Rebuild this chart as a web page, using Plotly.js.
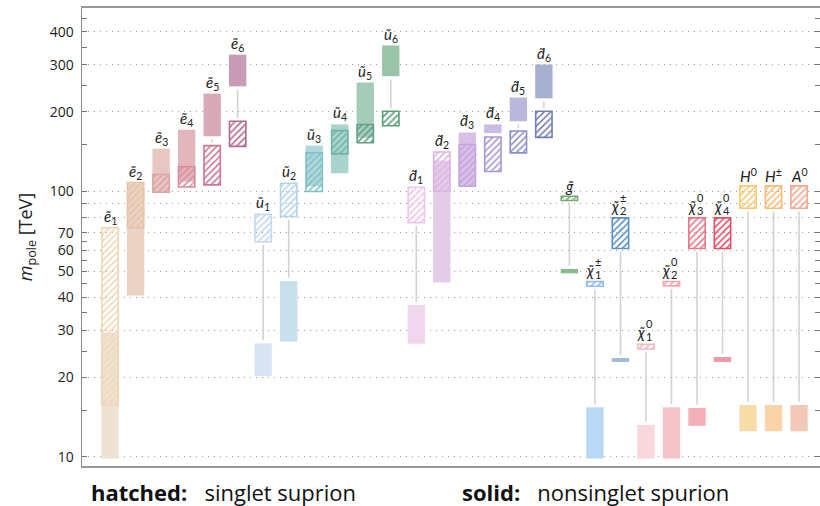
<!DOCTYPE html>
<html>
<head>
<meta charset="utf-8">
<script src="https://cdn.plot.ly/plotly-3.0.1.min.js"></script>
<style>
  html, body { margin: 0; padding: 0; background: #fff; }
  #chart { width: 820px; height: 506px; }
</style>
</head>
<body>
<div id="chart"></div>
<script>
// Particle labels: base symbol, subscript, superscript
const labelBase = ['ẽ','ẽ','ẽ','ẽ','ẽ','ẽ','ũ','ũ','ũ','ũ','ũ','ũ',
  'd̃','d̃','d̃','d̃','d̃','d̃','g̃','χ̃','χ̃','χ̃','χ̃','χ̃','χ̃','H','H','A'];
const labelSub = ['1','2','3','4','5','6','1','2','3','4','5','6',
  '1','2','3','4','5','6','','1','2','1','2','3','4','','',''];
const labelSup = ['','','','','','','','','','','','',
  '','','','','','','','±','±','0','0','0','0','0','±','0'];

// Nonsinglet spurion (solid) mass ranges in TeV
const solidLo = [9.87, 40.6, 100, 109, 161.5, 249, 20.2, 27.2, 104.7, 117.2, 159.4, 272,
  26.7, 45.4, 105, 166, 184, 224.5, 49.2, 9.87, 22.8, 9.87, 9.87, 13.1, 22.8, 12.5, 12.5, 12.5];
const solidHi = [29.3, 107, 145, 171, 234, 328, 26.8, 46, 149, 179, 257.5, 355,
  37.4, 131, 167, 179, 226, 301, 51.1, 15.4, 23.6, 13.2, 15.4, 15.3, 23.8, 15.7, 15.7, 15.7];

// Singlet spurion (hatched) mass ranges in TeV
const hatchLo = [15.7, 73, 99.5, 104, 106, 148, 64.7, 80.5, 100, 138.7, 152.6, 177,
  76.4, 100.3, 104.7, 119, 139.8, 160, 92.5, 44, 61, 25.5, 44.1, 61, 61, 86.5, 86.5, 86.5];
const hatchHi = [73, 108, 116, 124, 149, 184, 82, 107.5, 140, 169.6, 179, 200.6,
  103.8, 141, 150.4, 160.6, 169, 200.6, 96, 45.8, 79.6, 26.6, 45.8, 79.6, 79.6, 105, 105, 105];

const yTicks = [10, 20, 30, 40, 50, 60, 70, 80, 90, 100, 200, 300, 400];
const yTickText = ['10', '20', '30', '40', '50', '60', '70', '', '', '100', '200', '300', '400'];
const yMinorTicks = [15, 25, 35, 45, 55, 65, 150, 250, 350, 450];

// Colours per particle
const solidColors = ['#f0e2d2','#ead2c4','#e8c6c2','#e2b4bc','#d8aab8','#c89cb4',
  '#d8e4f4','#c8e0ec','#b0d8dc','#a8d4cc','#a4ccb8','#98c4a8',
  '#f2d6ee','#e4cce8','#d8c0e8','#c8bce4','#b8b8dc','#a8b0d0',
  '#88bc88','#b8d8f4','#a0bcd8','#f8d8dc','#f4c4c8','#f4b0b8','#f098a8',
  '#f8dca8','#f8d4a8','#f4c8b8'];
const hatchColors = ['#f0d6b6','#e8c2a4','#dca4a4','#d88c9c','#cc7890','#b86890',
  '#c4d8f0','#b4d4e8','#80c0c8','#70b4a8','#60a088','#58a078',
  '#f0c4e8','#dcb4e0','#c4a4dc','#a898d4','#8c90c8','#7080b4',
  '#70ac70','#90bcec','#5890c8','#f4b8c0','#f0a8b0','#e87888','#e05068',
  '#f8c870','#f8bc78','#f4a890'];

const n = labelBase.length;
const xs = labelBase.map((_, i) => i);
const FAMILY = '"Open Sans", "DejaVu Sans", sans-serif';
const LABEL_FAMILY = 'Lato, "DejaVu Sans", sans-serif';

// connector lines between the two ranges, with a small gap to each box
const gap = Math.pow(10, 3.2 / 265.4);
const cx = [], cy = [];
for (let i = 0; i < n; i++) {
  let a = null, b = null;
  if (hatchLo[i] > solidHi[i]) { a = solidHi[i] * gap; b = hatchLo[i] / gap; }
  else if (solidLo[i] > hatchHi[i]) { a = hatchHi[i] * gap; b = solidLo[i] / gap; }
  if (a !== null && b > a) { cx.push(i, i, null); cy.push(a, b, null); }
}

const connectors = {
  type: 'scatter', mode: 'lines', x: cx, y: cy,
  line: { color: '#d2d2d2', width: 1.6 }, hoverinfo: 'skip', showlegend: false
};

const solid = {
  type: 'bar', x: xs, base: solidLo,
  y: solidHi.map((h, i) => h - solidLo[i]),
  width: 0.68,
  marker: { color: solidColors, line: { width: 0 } },
  hoverinfo: 'skip', showlegend: false
};

const hatched = {
  type: 'bar', x: xs, base: hatchLo,
  y: hatchHi.map((h, i) => h - hatchLo[i]),
  width: 0.64,
  marker: {
    color: 'rgba(255,255,255,0)',
    line: { color: hatchColors, width: 1.6 },
    pattern: { shape: '/', fgcolor: hatchColors, bgcolor: 'rgba(255,255,255,0)',
               size: 4.6, solidity: 0.35, fillmode: 'replace' }
  },
  hoverinfo: 'skip', showlegend: false
};

// particle name annotations above each column
const annotations = [];
const labelFont = { family: LABEL_FAMILY, size: 15, color: '#222' };
for (let i = 0; i < n; i++) {
  const top = Math.log10(Math.max(solidHi[i], hatchHi[i]));
  const stacked = labelBase[i] === 'χ̃';
  if (!stacked) {
    let txt = '<i>' + labelBase[i] + '</i>';
    if (labelSub[i]) txt += '<sub>' + labelSub[i] + '</sub>';
    if (labelSup[i]) txt += '<sup>' + labelSup[i] + '</sup>';
    annotations.push({
      x: i, y: top, xref: 'x', yref: 'y', text: txt,
      showarrow: false, xanchor: 'center', yanchor: 'bottom', yshift: -1, font: labelFont
    });
  } else {
    // symbol with a subscript and a superscript stacked at its right
    annotations.push({
      x: i, y: top, xref: 'x', yref: 'y', text: '<i>' + labelBase[i] + '</i>',
      showarrow: false, xanchor: 'right', yanchor: 'bottom', yshift: 2, xshift: 0,
      borderpad: 0, font: labelFont
    });
    annotations.push({
      x: i, y: top, xref: 'x', yref: 'y', text: labelSub[i],
      showarrow: false, xanchor: 'left', yanchor: 'bottom', yshift: 0, xshift: -1,
      borderpad: 0, font: { family: LABEL_FAMILY, size: 11, color: '#222' }
    });
    annotations.push({
      x: i, y: top, xref: 'x', yref: 'y', text: labelSup[i],
      showarrow: false, xanchor: 'left', yanchor: 'bottom', yshift: 13, xshift: -1,
      borderpad: 0, font: { family: LABEL_FAMILY, size: 11, color: '#222' }
    });
  }
}

// notes under the chart
const noteFont = { family: FAMILY, size: 22, color: '#111' };
annotations.push({
  xref: 'paper', yref: 'paper', x: 0.01, y: -0.057, xanchor: 'left', yanchor: 'middle',
  text: '<b>hatched:</b>\u00a0\u00a0\u00a0singlet suprion', showarrow: false, font: noteFont
});
annotations.push({
  xref: 'paper', yref: 'paper', x: 0.512, y: -0.057, xanchor: 'left', yanchor: 'middle',
  text: '<b>solid:</b>\u00a0\u00a0\u00a0nonsinglet spurion', showarrow: false, font: noteFont
});

const layout = {
  width: 820, height: 506,
  margin: { l: 82, r: 0, t: 8, b: 40 },
  paper_bgcolor: '#fff', plot_bgcolor: '#fff',
  barmode: 'overlay',
  font: { family: FAMILY, color: '#222' },
  xaxis: {
    range: [-1.1, 27.82], showticklabels: false, ticks: '', showgrid: false,
    zeroline: false, showline: true, linecolor: '#999', linewidth: 1.6, mirror: true,
    fixedrange: true
  },
  yaxis: {
    type: 'log', range: [0.966, 2.6915],
    tickmode: 'array', tickvals: yTicks, ticktext: yTickText,
    ticks: 'inside', ticklen: 5, tickwidth: 1, tickcolor: '#777',
    tickfont: { size: 14, color: '#222' },
    showgrid: true, gridcolor: '#999', griddash: '1px,5px', gridwidth: 1,
    minor: { tickmode: 'array', tickvals: yMinorTicks, ticks: 'inside', ticklen: 5,
             tickwidth: 1, tickcolor: '#777', showgrid: false },
    showline: true, linecolor: '#888', linewidth: 1.4, mirror: 'allticks',
    ticklabelstandoff: 4,
    title: { text: '<i>m</i><sub>pole</sub> [TeV]', font: { size: 18, color: '#222' }, standoff: 12 },
    fixedrange: true
  },
  annotations: annotations
};

Plotly.newPlot('chart', [connectors, solid, hatched], layout, { displayModeBar: false, staticPlot: true });
</script>
</body>
</html>
